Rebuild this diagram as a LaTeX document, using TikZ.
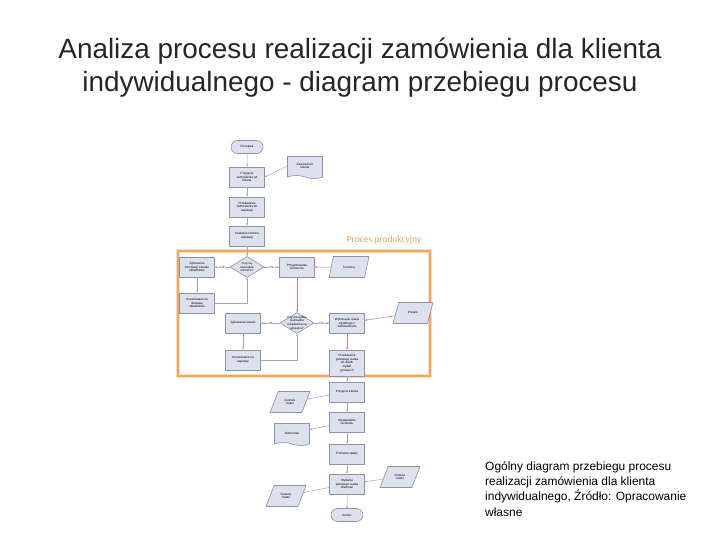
\documentclass[tikz,border=0pt]{standalone}
\usepackage{fontspec}
\setmainfont{Liberation Sans}
\newfontfamily\calibrilike{Carlito}
\usetikzlibrary{arrows.meta,shapes.geometric,shapes.misc,shapes.symbols}
\definecolor{boxfill}{HTML}{DDE1EE}
\definecolor{boxline}{HTML}{8A92A6}
\definecolor{flowline}{HTML}{A2A6B2}
\definecolor{redline}{HTML}{D47C7C}
\definecolor{frameorange}{HTML}{F0A860}
\definecolor{labelorange}{HTML}{E9A55E}
\newcommand{\tinyfont}{\fontsize{3.1}{3.7}\selectfont}
\tikzset{
  stepbox/.style={rectangle,draw=boxline,fill=boxfill,line width=0.6bp,minimum width=35bp,minimum height=20bp,inner sep=0.5bp,align=center,font=\tinyfont},
  terminal/.style={rounded rectangle,draw=boxline,fill=boxfill,line width=0.6bp,minimum width=33bp,minimum height=13bp,inner sep=0.5bp,font=\tinyfont},
  decision/.style={diamond,draw=boxline,fill=boxfill,line width=0.6bp,minimum width=34bp,minimum height=21bp,inner sep=0pt,aspect=1.7},
  inout/.style={trapezium,trapezium left angle=60,trapezium right angle=120,trapezium stretches=true,draw=boxline,fill=boxfill,line width=0.6bp,minimum width=40bp,minimum height=21bp,inner sep=0.5bp,align=center,font=\tinyfont},
  docnode/.style={tape,tape bend top=none,tape bend bottom=out and in,tape bend height=3bp,draw=boxline,fill=boxfill,line width=0.6bp,minimum width=35bp,minimum height=22bp,inner sep=0.5bp,align=center,font=\tinyfont},
  flow/.style={draw=flowline,line width=0.5bp,-{Stealth[length=2.4bp,width=2bp]}},
  redflow/.style={draw=redline,line width=0.5bp,-{Stealth[length=2.4bp,width=2bp]}},
  yesno/.style={fill=white,inner sep=0.3bp,font=\tinyfont,text=black!70}
}

\begin{document}
\begin{tikzpicture}[x=1bp,y=-1bp]
    \useasboundingbox (0,0) rectangle (720,540);
    \node[align=center,font=\fontsize{28}{33}\selectfont,text=black!85] (title) at (360,68)
      {Analiza procesu realizacji zamówienia dla klienta\\indywidualnego - diagram przebiegu procesu};

    \draw[frameorange!40,line width=4bp] (178,251) rectangle (430,376);
    \draw[frameorange,line width=1.8bp] (178,251) rectangle (430,376);
    \node[font=\calibrilike\fontsize{9.5}{11}\selectfont,text=labelorange] (proclabel) at (384,240) {Proces produkcyjny};

    \node[terminal] (start) at (247,147) {Początek};
    \node[stepbox] (order) at (247,177) {Przyjęcie\\zamówienia od\\klienta};
    \node[docnode] (orderdoc) at (305,166) {Zamówienie\\klienta};
    \node[stepbox] (handover) at (247,207) {Przekazanie\\zamówienia do\\realizacji};
    \node[stepbox] (term) at (247,236) {Ustalenie terminu\\realizacji};

    \node[decision,label={[align=center,font=\tinyfont]center:Czy są\\wszystkie\\surowce?}] (check1) at (247,267) {};
    \node[stepbox] (report) at (197,267) {Zgłoszenie\\informacji o braku\\składników};
    \node[stepbox] (waitsup) at (197,303) {Oczekiwanie na\\dostawę\\składników};
    \node[stepbox] (prep) at (297,267) {Przygotowanie\\surowców};
    \node[inout] (raw) at (349,267) {Surowce};

    \node[decision,label={[align=center,font=\tinyfont]center:Czy wszystkie\\niezbędne\\urządzenia są\\sprawne?}] (check2) at (297,323) {};
    \node[stepbox] (fault) at (243,323) {Zgłoszenie usterki};
    \node[stepbox] (repair) at (243,360) {Oczekiwanie na\\naprawę};
    \node[stepbox] (bake) at (347,323) {Wykonanie ciasta\\zgodnego z\\zamówieniem};
    \node[inout] (recipe) at (413,313) {Przepis};
    \node[stepbox,minimum height=26bp] (pass) at (347,363) {Przekazanie\\gotowego ciasta\\do działu\\wydań\\gotowych};

    \node[stepbox] (client) at (347,392) {Przyjęcie klienta};
    \node[inout] (cakeA) at (290,402) {Gotowe\\ciasto};
    \node[stepbox] (invoice) at (347,422) {Wystawienie\\rachunku};
    \node[docnode] (bill) at (292,433) {Rachunek};
    \node[stepbox] (pay) at (347,454) {Pobranie opłaty};
    \node[stepbox] (issue) at (347,484) {Wydanie\\gotowego ciasta\\klientowi};
    \node[inout] (cakeB) at (400,477) {Gotowe\\ciasto};
    \node[inout] (cakeC) at (286,496) {Gotowe\\ciasto};
    \node[terminal] (stop) at (347,515) {Koniec};

    \draw[flow] (start) -- (order);
    \draw[flow] (orderdoc.west) -- (order.east);
    \draw[flow] (order) -- (handover);
    \draw[flow] (handover) -- (term);
    \draw[flow] (term) -- (check1);
    \draw[flow] (check1) -- node[yesno] {NIE} (report);
    \draw[flow] (check1) -- node[yesno] {TAK} (prep);
    \draw[flow] (report) -- (waitsup);
    \draw[flow] (waitsup.east) -| (check1.south);
    \draw[redflow] (raw) -- (prep);
    \draw[redflow] (prep) -- (check2);
    \draw[flow] (check2) -- node[yesno] {NIE} (fault);
    \draw[flow] (check2) -- node[yesno] {TAK} (bake);
    \draw[flow] (fault) -- (repair);
    \draw[flow] (repair.east) -| (check2.south);
    \draw[redflow] (recipe) -- (bake);
    \draw[redflow] (bake) -- (pass);

    \draw[flow] (pass) -- (client);
    \draw[flow] (client) -- (cakeA);
    \draw[flow] (client) -- (invoice);
    \draw[flow] (invoice) -- (bill);
    \draw[flow] (invoice) -- (pay);
    \draw[flow] (pay) -- (issue);
    \draw[flow] (cakeB) -- (issue);
    \draw[flow] (issue) -- (cakeC);
    \draw[flow] (issue) -- (stop);

    \node[anchor=north west,align=left,inner sep=0pt,font=\fontsize{12}{15.5}\selectfont] (caption) at (485,461)
      {Ogólny diagram przebiegu procesu\\realizacji zamówienia dla klienta\\indywidualnego, Źródło: Opracowanie\\własne};
\end{tikzpicture}
\end{document}
